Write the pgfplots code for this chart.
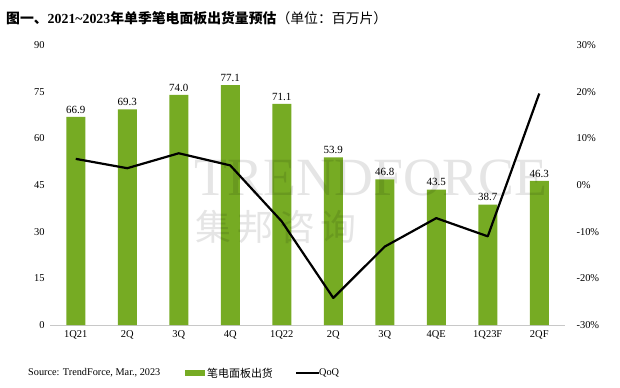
\documentclass[border=0pt]{standalone}
\usepackage{pgfplots}
\pgfplotsset{compat=1.18}
\usepackage{fontspec}
\setmainfont{Liberation Serif}
\newfontfamily\cjk{Noto Sans CJK SC}
\definecolor{barg}{RGB}{118,171,35}
\definecolor{axg}{RGB}{200,200,200}
\begin{document}
\begin{tikzpicture}[x=1bp,y=1bp]
\useasboundingbox (0,0) rectangle (620,387);
\begin{axis}[
  at={(50bp,62bp)}, anchor=south west,
  scale only axis, width=515bp, height=280bp,
  xmin=-0.5, xmax=9.5, ymin=0, ymax=90,
  ytick={0,15,...,90},
  xtick={0,...,9},
  xticklabels={1Q21,2Q,3Q,4Q,1Q22,2Q,3Q,4QE,1Q23F,2QF},
  axis x line*=bottom, axis y line*=left,
  y axis line style={draw=none},
  x axis line style={axg, line width=1pt},
  major tick length=0pt,
  tick label style={font=\fontsize{10.5}{12}\selectfont},
  /pgf/number format/assume math mode=true,
  yticklabel style={xshift=-2bp},
  xticklabel style={yshift=-2bp},
  nodes near coords,
  nodes near coords style={font=\fontsize{11}{13}\selectfont, /pgf/number format/.cd, fixed, fixed zerofill, precision=1, assume math mode=true},
  clip=false,
]
\addplot[ybar, bar width=19bp, fill=barg, draw=none] coordinates {
(0,66.9) (1,69.3) (2,74.0) (3,77.1) (4,71.1) (5,53.9) (6,46.8) (7,43.5) (8,38.7) (9,46.3)};
\node[anchor=west, text=black, opacity=0.1, inner sep=0, font=\fontsize{54}{54}\selectfont] at (axis cs:2.3,47.2) {TRENDFORCE};
\node[anchor=west, text=black, opacity=0.1, inner sep=0, font=\cjk\fontsize{36}{36}\selectfont] at (axis cs:2.32,31.6) {集\,邦\,咨\,询};
\end{axis}
\begin{axis}[
  at={(50bp,62bp)}, anchor=south west,
  scale only axis, width=515bp, height=280bp,
  xmin=-0.5, xmax=9.5, ymin=-30, ymax=30,
  ytick={-30,-20,...,30},
  yticklabel={\pgfmathprintnumber{\tick}\%},
  axis y line*=right, axis x line=none,
  y axis line style={draw=none},
  major tick length=0pt,
  tick label style={font=\fontsize{10.5}{12}\selectfont},
  /pgf/number format/assume math mode=true,
  yticklabel style={xshift=8bp},
  clip=false,
]
\addplot[black, line width=2.2bp, line join=round] coordinates {
(0,5.6) (1,3.6) (2,6.8) (3,4.2) (4,-7.8) (5,-24.2) (6,-13.2) (7,-7.1) (8,-11.0) (9,19.6)};
\end{axis}
\node[anchor=west, font=\cjk\bfseries\fontsize{13.9}{15}\selectfont, inner sep=0] at (6,369) {图一、\rmfamily\bfseries 2021\textasciitilde2023\cjk\bfseries 年单季笔电面板出货量预估\mdseries（单位：百万片）};
\node[anchor=west, font=\fontsize{10.3}{12}\selectfont, inner sep=0] at (28,14) {Source: TrendForce, Mar., 2023};
\fill[barg] (185,11) rectangle (205,17);
\node[anchor=west, font=\cjk\fontsize{11}{13}\selectfont, inner sep=0] at (207,14) {笔电面板出货};
\draw[black, line width=2.2bp] (296,14) -- (319,14);
\node[anchor=west, font=\fontsize{10.3}{12}\selectfont, inner sep=0] at (319,14) {QoQ};
\end{tikzpicture}
\end{document}
